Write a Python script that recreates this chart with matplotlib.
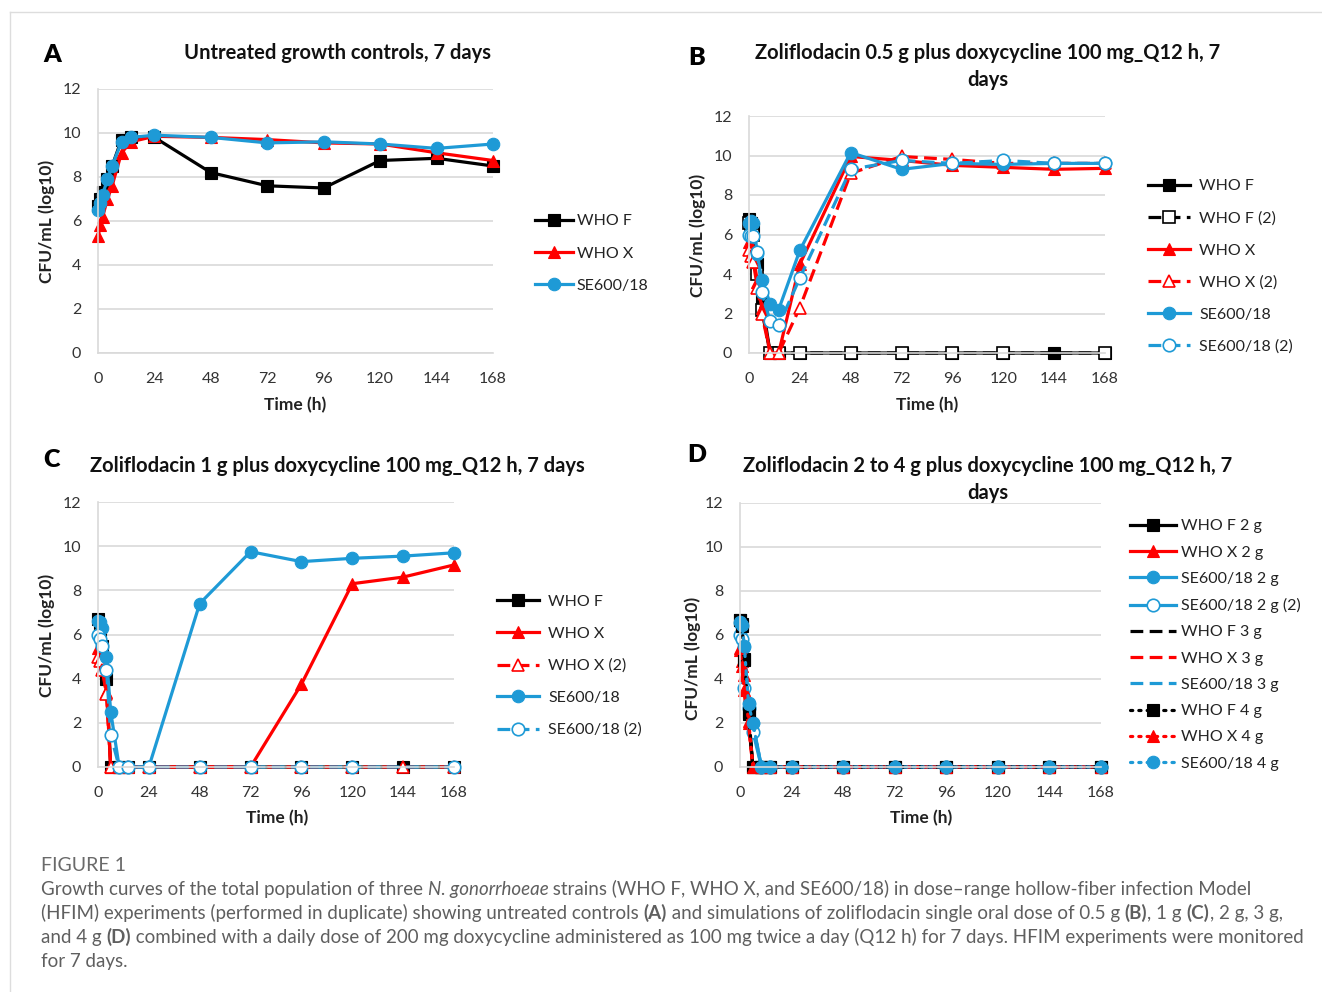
import numpy as np
import matplotlib
matplotlib.use("Agg")
import matplotlib.pyplot as plt

plt.rcParams['font.family'] = ['Lato', 'DejaVu Sans']

W, H = 1322, 992
BLACK = '#000000'
RED = '#FF0000'
BLUE = '#1E9AD6'
GRID = '#D9D9D9'
CAP = '#5F5F5F'

# sampling times (h)
t = [0, 1, 2, 4, 6, 10, 14, 24, 48, 72, 96, 120, 144, 168]

# A: untreated growth controls
a_whof = [6.7, 7.0, 7.3, 7.9, 8.5, 9.7, 9.8, 9.8, 8.2, 7.6, 7.5, 8.75, 8.85, 8.5]
a_whox = [5.3, 5.8, 6.2, 7.0, 7.6, 9.1, 9.6, 9.85, 9.8, 9.7, 9.55, 9.5, 9.1, 8.75]
a_se = [6.5, 6.8, 7.2, 7.9, 8.5, 9.6, 9.8, 9.9, 9.8, 9.55, 9.6, 9.5, 9.3, 9.5]

# B: zoliflodacin 0.5 g
b_whof = [6.8, 6.6, 6.3, 4.5, 2.7, 0, 0, 0, 0, 0, 0, 0, 0, 0]
b_whof2 = [6.6, 6.3, 6.0, 4.0, 2.2, 0, 0, 0, 0, 0, 0, 0, None, 0]
b_whox = [5.6, 5.3, 4.9, 3.6, 2.3, 0, 0, 4.5, 9.95, 9.75, 9.5, 9.4, 9.3, 9.35]
b_whox2 = [5.2, 4.9, 4.6, 3.3, 2.0, 0, 0, 2.3, 9.1, 9.95, 9.8, 9.6, 9.6, 9.6]
b_se = [6.6, 6.7, 6.6, 5.0, 3.7, 2.5, 2.2, 5.2, 10.15, 9.3, 9.6, 9.55, 9.6, 9.6]
b_se2 = [6.0, 5.9, 5.9, 5.1, 3.1, 1.6, 1.4, 3.8, 9.3, 9.75, 9.6, 9.75, 9.6, 9.6]

# C: zoliflodacin 1 g
c_whof = [6.7, 6.2, 5.5, 4.0, 0, 0, 0, 0, 0, 0, 0, 0, 0, 0]
c_whox = [5.4, 5.0, 4.5, 3.4, 0, 0, 0, 0, 0, 0, 3.75, 8.3, 8.6, 9.15]
c_whox2 = [5.0, 4.8, 4.4, 3.3, 0, 0, 0, 0, 0, 0, 0, 0, 0, 0]
c_se = [6.6, 6.55, 6.3, 5.0, 2.5, 0, 0, 0, 7.4, 9.75, 9.3, 9.45, 9.55, 9.7]
c_se2 = [6.0, 5.8, 5.5, 4.4, 1.45, 0, 0, 0, 0, 0, 0, 0, None, 0]

# D: zoliflodacin 2 to 4 g
d_whof_2 = [6.7, 6.5, 4.9, 2.4, 0, 0, 0, 0, 0, 0, 0, 0, 0, 0]
d_whox_2 = [5.3, 4.8, 4.2, 2.0, 0, 0, 0, 0, 0, 0, 0, 0, 0, 0]
d_se_2 = [6.55, 6.4, 5.45, 2.9, 2.0, 0, 0, 0, 0, 0, 0, 0, 0, 0]
d_se_2b = [6.0, 5.8, 3.6, 2.7, 1.6, 0, 0, 0, 0, 0, 0, 0, 0, 0]
d_whof_3 = [6.6, 6.2, 4.8, 2.3, 0, 0, 0, 0, 0, 0, 0, 0, 0, 0]
d_whox_3 = [5.2, 4.5, 3.3, 1.9, 0, 0, 0, 0, 0, 0, 0, 0, 0, 0]
d_se_3 = [6.5, 6.3, 5.2, 2.8, 1.9, 0, 0, 0, 0, 0, 0, 0, 0, 0]
d_whof_4 = [6.7, 6.4, 4.85, 2.5, 0, 0, 0, 0, 0, 0, 0, 0, 0, 0]
d_whox_4 = [5.4, 4.6, 3.5, 2.1, 0, 0, 0, 0, 0, 0, 0, 0, 0, 0]
d_se_4 = [6.6, 6.45, 5.5, 2.85, 2.0, 0, 0, 0, 0, 0, 0, 0, 0, 0]

fig = plt.figure(figsize=(W / 100, H / 100), dpi=100)
fig.patch.set_facecolor('white')


def px_axes(l, top, r, b):
    return fig.add_axes([l / W, 1 - b / H, (r - l) / W, (b - top) / H])


def style(ax):
    ax.set_xlim(0, 168)
    ax.set_ylim(0, 12)
    ax.set_xticks(range(0, 169, 24))
    ax.set_yticks(range(0, 13, 2))
    ax.grid(axis='y', color=GRID, lw=1.2)
    ax.set_axisbelow(True)
    for s in ['top', 'right']:
        ax.spines[s].set_visible(False)
    for s in ['left', 'bottom']:
        ax.spines[s].set_color(GRID)
        ax.spines[s].set_linewidth(1.2)
    ax.tick_params(length=0, labelsize=11.5, colors='#333333')
    ax.tick_params(axis='x', pad=14)
    ax.tick_params(axis='y', pad=12)


def series(ax, y, color, label, ls='-', marker='o', filled=True, ms=9):
    xs = [a for a, b in zip(t, y) if b is not None]
    ys = [b for b in y if b is not None]
    if ls == '--':
        dash = dict(linestyle=(0, (4, 2)))
    elif ls == ':':
        dash = dict(linestyle=(0, (0.7, 1.9)), dash_capstyle='round')
    else:
        dash = dict(linestyle='-')
    face = color if filled else 'white'
    mew = 0.8 if filled else 1.2
    return ax.plot(xs, ys, color=color, lw=2.3, marker=marker, ms=ms,
                   mfc=face, mec=color, mew=mew, label=label, clip_on=False,
                   **dash)[0]


def legend(ax, handles, x, yc, pitch, hl=2.4, pad=0.35):
    lab = (pitch / 16.0) - 1.0 + 0.05
    leg = ax.legend(handles=handles, loc='center left', frameon=False,
                    bbox_to_anchor=(x / W, 1 - yc / H),
                    bbox_transform=fig.transFigure, borderaxespad=0,
                    borderpad=0, fontsize=11.5, labelspacing=lab,
                    handlelength=hl, handletextpad=pad, numpoints=1)
    for txt in leg.get_texts():
        txt.set_color('#222222')
    return leg


def ftext(x, y, s, **kw):
    return fig.text(x / W, 1 - y / H, s, **kw)


# ---- A ----
axA = px_axes(98, 89, 493, 353)
style(axA)
hA = [series(axA, a_whof, BLACK, 'WHO F', marker='s'),
      series(axA, a_whox, RED, 'WHO X', marker='^'),
      series(axA, a_se, BLUE, 'SE600/18', marker='o')]
legend(axA, hA, 535, 253.5, 33.5, pad=0.2)

# ---- B ----
axB = px_axes(749, 116, 1105, 353)
style(axB)
hB = [series(axB, b_whof, BLACK, 'WHO F', marker='s'),
      series(axB, b_whof2, BLACK, 'WHO F (2)', ls='--', marker='s', filled=False),
      series(axB, b_whox, RED, 'WHO X', marker='^'),
      series(axB, b_whox2, RED, 'WHO X (2)', ls='--', marker='^', filled=False),
      series(axB, b_se, BLUE, 'SE600/18', marker='o'),
      series(axB, b_se2, BLUE, 'SE600/18 (2)', ls='--', marker='o', filled=False)]
legend(axB, hB, 1148, 266.5, 33, hl=2.6, pad=0.6)

# ---- C ----
axC = px_axes(98, 502, 454, 767)
style(axC)
hC = [series(axC, c_whof, BLACK, 'WHO F', marker='s'),
      series(axC, c_whox, RED, 'WHO X', marker='^'),
      series(axC, c_whox2, RED, 'WHO X (2)', ls='--', marker='^', filled=False),
      series(axC, c_se, BLUE, 'SE600/18', marker='o'),
      series(axC, c_se2, BLUE, 'SE600/18 (2)', ls='--', marker='o', filled=False)]
legend(axC, hC, 497, 666, 33, hl=2.6, pad=0.6)

# ---- D ----
axD = px_axes(740, 503, 1101, 767)
style(axD)
hD = [series(axD, d_whof_2, BLACK, 'WHO F 2 g', marker='s'),
      series(axD, d_whox_2, RED, 'WHO X 2 g', marker='^'),
      series(axD, d_se_2, BLUE, 'SE600/18 2 g', marker='o'),
      series(axD, d_se_2b, BLUE, 'SE600/18 2 g (2)', marker='o', filled=False),
      series(axD, d_whof_3, BLACK, 'WHO F 3 g', ls='--', marker=None),
      series(axD, d_whox_3, RED, 'WHO X 3 g', ls='--', marker=None),
      series(axD, d_se_3, BLUE, 'SE600/18 3 g', ls='--', marker=None),
      series(axD, d_whof_4, BLACK, 'WHO F 4 g', ls=':', marker='s'),
      series(axD, d_whox_4, RED, 'WHO X 4 g', ls=':', marker='^'),
      series(axD, d_se_4, BLUE, 'SE600/18 4 g', ls=':', marker='o')]
legend(axD, hD, 1130, 645, 27.3, hl=2.9, pad=0.3)

# ---- titles, labels, panel letters ----
tkw = dict(fontsize=14.5, fontweight='bold', ha='center', va='center', color='#111111')
ftext(338, 53, 'Untreated growth controls, 7 days', **tkw)
ftext(988, 53, 'Zoliflodacin 0.5 g plus doxycycline 100 mg_Q12 h, 7', **tkw)
ftext(988, 80, 'days', **tkw)
ftext(337, 466, 'Zoliflodacin 1 g plus doxycycline 100 mg_Q12 h, 7 days', **tkw)
ftext(988, 466, 'Zoliflodacin 2 to 4 g plus doxycycline 100 mg_Q12 h, 7', **tkw)
ftext(988, 493, 'days', **tkw)

lkw = dict(fontsize=18, fontweight='heavy', ha='center', va='center', color='black')
ftext(52, 55, 'A', **lkw)
ftext(697, 58, 'B', **lkw)
ftext(52, 460, 'C', **lkw)
ftext(697, 455, 'D', **lkw)

akw = dict(fontsize=12.5, fontweight='bold', ha='center', va='center', color='#222222')
for (x, y) in [(295, 405), (927, 405), (277, 818), (921, 818)]:
    ftext(x, y, 'Time (h)', **akw)
for (x, y) in [(47, 221), (698, 235), (47, 635), (693, 658)]:
    ftext(x, y, 'CFU/mL (log10)', rotation=90, **akw)

# ---- caption ----
renderer = fig.canvas.get_renderer()


def text_width(s, size, **kw):
    tt = fig.text(0, 0, s, fontsize=size, **kw)
    w = tt.get_window_extent(renderer=renderer).width
    tt.remove()
    return w


def seg_width(s, size, **kw):
    return text_width('|' + s + '|', size, **kw) - text_width('||', size, **kw)


N = dict()
I = dict(fontstyle='italic')
B = dict(fontweight='bold')
cap_lines = [
    [('Growth curves of the total population of three ', N), ('N. gonorrhoeae', I),
     (' strains (WHO F, WHO X, and SE600/18) in dose\u2013range hollow-fiber infection Model', N)],
    [('(HFIM) experiments (performed in duplicate) showing untreated controls ', N), ('(A)', B),
     (' and simulations of zoliflodacin single oral dose of 0.5 g ', N), ('(B)', B),
     (', 1 g ', N), ('(C)', B), (', 2 g, 3 g,', N)],
    [('and 4 g ', N), ('(D)', B),
     (' combined with a daily dose of 200 mg doxycycline administered as 100 mg twice a day (Q12 h) for 7 days. HFIM experiments were monitored', N)],
    [('for 7 days.', N)],
]

base = 10.0
w3 = sum(seg_width(s, base, **kw) for s, kw in cap_lines[2])
cap_size = base * (1300 - 41) / w3

ftext(41, 871, 'FIGURE 1', fontsize=cap_size * 1.05, color='#6A6A6A', va='baseline')
for i, parts in enumerate(cap_lines):
    x = 41.0
    y = 895 + 24 * i
    for s, kw in parts:
        ftext(x, y, s, fontsize=cap_size, color=CAP, va='baseline', **kw)
        x += seg_width(s, cap_size, **kw)

# thin frame lines
fig.add_artist(plt.Line2D([10 / W, 1], [1 - 12 / H, 1 - 12 / H], transform=fig.transFigure,
                          color='#DDDDDD', lw=1))
fig.add_artist(plt.Line2D([10 / W, 10 / W], [1 - 12 / H, 0], transform=fig.transFigure,
                          color='#DDDDDD', lw=1))

fig.savefig('out.png', dpi=100)
